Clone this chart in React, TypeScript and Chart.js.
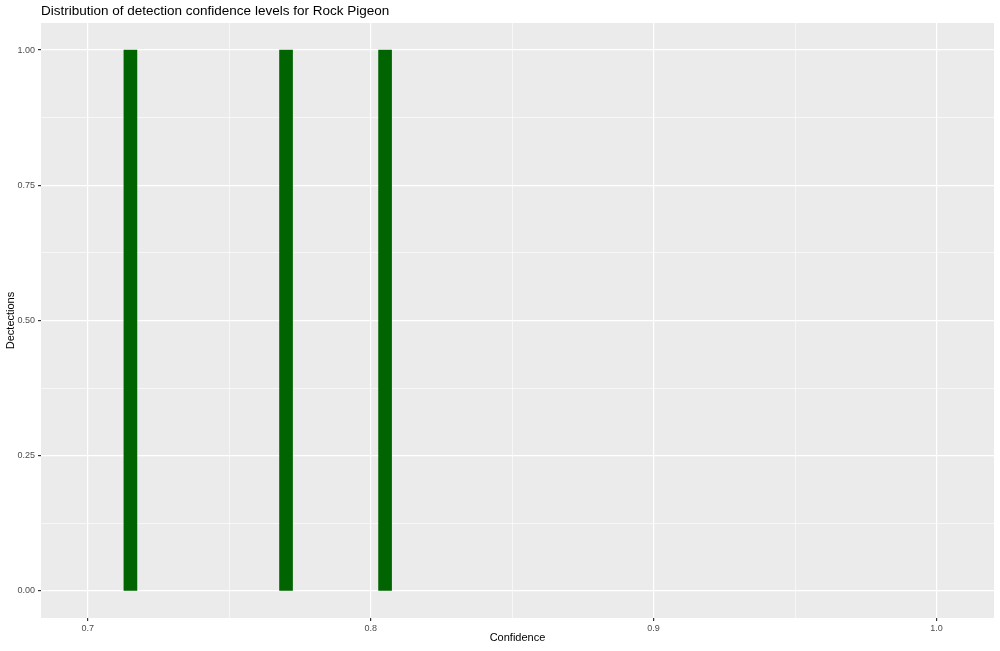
import React, { useEffect, useRef } from "react";
import { Chart, registerables } from "chart.js";

Chart.register(...registerables);

const TITLE = "Distribution of detection confidence levels for Rock Pigeon";
const X_TITLE = "Confidence";
const Y_TITLE = "Dectections";

// histogram bins (bin centres) and counts
const binCenters = [0.7151, 0.7701, 0.8051];
const counts = [1, 1, 1];

// axis ticks
const xMajorTicks = [0.7, 0.8, 0.9, 1.0];
const xMinorTicks = [0.75, 0.85, 0.95];
const yMajorTicks = [0, 0.25, 0.5, 0.75, 1.0];
const yMinorTicks = [0.125, 0.375, 0.625, 0.875];

const X_MIN = 0.6835;
const X_MAX = 1.0203;
const Y_MIN = -0.05;
const Y_MAX = 1.05;

const FONT = "'Liberation Sans', Arial, Helvetica, sans-serif";

const isMajor = (v: number, list: number[]) => list.some((m) => Math.abs(m - v) < 1e-9);

export default function App() {
  const ref = useRef<HTMLCanvasElement | null>(null);

  useEffect(() => {
    if (!ref.current) return;

    const panelBg = {
      id: "panelBg",
      beforeDraw(chart: any) {
        const { ctx, chartArea } = chart;
        ctx.save();
        ctx.fillStyle = "#EBEBEB";
        ctx.fillRect(chartArea.left, chartArea.top, chartArea.right - chartArea.left, chartArea.bottom - chartArea.top);
        ctx.restore();
      },
      afterDraw(chart: any) {
        const { ctx, chartArea } = chart;
        ctx.save();
        ctx.fillStyle = "#000000";
        ctx.font = `13.5px ${FONT}`;
        ctx.textAlign = "left";
        ctx.textBaseline = "middle";
        ctx.fillText(TITLE, chartArea.left, 11);
        ctx.restore();
      },
    };

    const xAll = [...xMajorTicks, ...xMinorTicks].sort((a, b) => a - b);
    const yAll = [...yMajorTicks, ...yMinorTicks].sort((a, b) => a - b);

    const chart = new Chart(ref.current, {
      type: "bar",
      data: {
        datasets: [
          {
            data: binCenters.map((x, i) => ({ x, y: counts[i] })),
            backgroundColor: "#006400",
            borderWidth: 0,
            barThickness: 13,
          },
        ],
      },
      options: {
        animation: false,
        responsive: false,
        maintainAspectRatio: false,
        layout: { padding: { top: 23, right: 6, left: 0, bottom: 0 } },
        plugins: {
          legend: { display: false },
          title: { display: false },
          tooltip: { enabled: false },
        },
        scales: {
          x: {
            type: "linear",
            min: X_MIN,
            max: X_MAX,
            offset: false,
            afterBuildTicks(scale: any) {
              scale.ticks = xAll.map((v) => ({ value: v }));
            },
            afterFit(scale: any) {
              scale.height = 33;
            },
            border: { display: false },
            grid: {
              offset: false,
              color: "#FFFFFF",
              lineWidth: (c: any) => (isMajor(c.tick?.value, xMajorTicks) ? 1.2 : 0.6),
              tickColor: (c: any) => (isMajor(c.tick?.value, xMajorTicks) ? "#333333" : "rgba(0,0,0,0)"),
              tickLength: 3,
              drawTicks: true,
            },
            ticks: {
              autoSkip: false,
              maxRotation: 0,
              padding: 2,
              color: "#4D4D4D",
              font: { family: FONT, size: 9 },
              callback: (v: any) => (isMajor(Number(v), xMajorTicks) ? Number(v).toFixed(1) : ""),
            },
            title: {
              display: true,
              text: X_TITLE,
              color: "#000000",
              font: { family: FONT, size: 11 },
              padding: { top: 0, bottom: 6 },
            },
          },
          y: {
            type: "linear",
            min: Y_MIN,
            max: Y_MAX,
            afterBuildTicks(scale: any) {
              scale.ticks = yAll.map((v) => ({ value: v }));
            },
            afterFit(scale: any) {
              scale.width = 41;
            },
            border: { display: false },
            grid: {
              offset: false,
              color: "#FFFFFF",
              lineWidth: (c: any) => (isMajor(c.tick?.value, yMajorTicks) ? 1.2 : 0.6),
              tickColor: (c: any) => (isMajor(c.tick?.value, yMajorTicks) ? "#333333" : "rgba(0,0,0,0)"),
              tickLength: 3,
              drawTicks: true,
            },
            ticks: {
              autoSkip: false,
              padding: 3,
              color: "#4D4D4D",
              font: { family: FONT, size: 9 },
              callback: (v: any) => (isMajor(Number(v), yMajorTicks) ? Number(v).toFixed(2) : ""),
            },
            title: {
              display: true,
              text: Y_TITLE,
              color: "#000000",
              font: { family: FONT, size: 11 },
              padding: { top: 4.4, bottom: 0 },
            },
          },
        },
      },
      plugins: [panelBg],
    } as any);

    return () => chart.destroy();
  }, []);

  return (
    <div style={{ position: "fixed", left: 0, top: 0, width: 1000, height: 651, background: "#FFFFFF" }}>
      <canvas ref={ref} width={1000} height={651} style={{ display: "block" }} />
    </div>
  );
}
